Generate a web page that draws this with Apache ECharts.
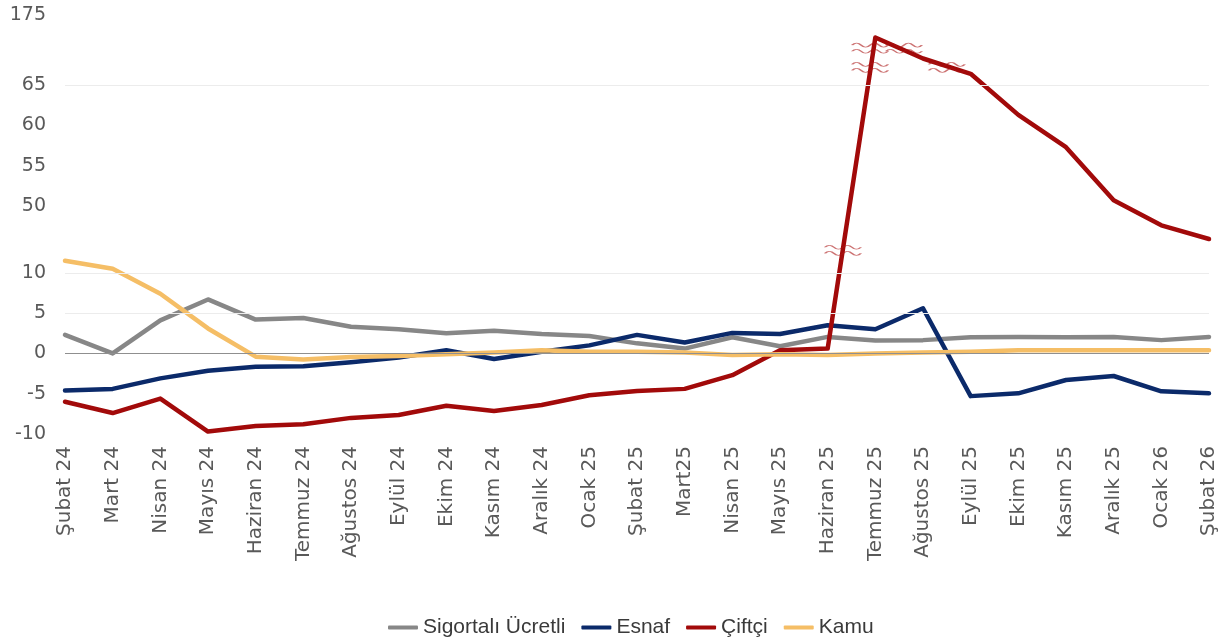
<!DOCTYPE html>
<html>
<head>
<meta charset="utf-8">
<script src="https://cdn.jsdelivr.net/npm/echarts@6/dist/echarts.min.js"></script>
<style>
html,body{margin:0;padding:0;background:#fff;}
#chart{width:1225px;height:641px;}
</style>
</head>
<body>
<div id="chart"></div>
<script>
var categories = ['Şubat 24','Mart 24','Nisan 24','Mayıs 24','Haziran 24','Temmuz 24','Ağustos 24','Eylül 24','Ekim 24','Kasım 24','Aralık 24','Ocak 25','Şubat 25','Mart25','Nisan 25','Mayıs 25','Haziran 25','Temmuz 25','Ağustos 25','Eylül 25','Ekim 25','Kasım 25','Aralık 25','Ocak 26','Şubat 26'];
var sigortaliUcretli = [2.3, 0.0, 4.1, 6.7, 4.2, 4.4, 3.3, 3.0, 2.5, 2.8, 2.4, 2.15, 1.25, 0.6, 2.0, 0.9, 2.05, 1.6, 1.65, 2.0, 2.05, 2.0, 2.05, 1.65, 2.05];
var esnaf = [-4.6, -4.4, -3.1, -2.15, -1.65, -1.6, -1.1, -0.5, 0.4, -0.7, 0.2, 1.0, 2.3, 1.35, 2.55, 2.4, 3.5, 3.0, 5.6, -5.3, -4.95, -3.3, -2.8, -4.7, -4.95];
var ciftci = [-6.0, -7.4, -5.6, -9.7, -9.0, -8.8, -8.0, -7.65, -6.5, -7.15, -6.4, -5.2, -4.65, -4.4, -2.7, 0.4, 0.6, 172.2, 68.3, 66.4, 61.3, 57.3, 50.7, 47.6, 45.9];
var kamu = [11.5, 10.5, 7.4, 3.1, -0.4, -0.75, -0.45, -0.33, -0.1, 0.1, 0.4, 0.2, 0.2, 0.1, -0.2, -0.1, -0.2, 0.0, 0.1, 0.2, 0.4, 0.4, 0.4, 0.4, 0.4];
var yTickLabels = [-10, -5, 0, 5, 10, 50, 55, 60, 65, 175];
var gridLineValues = [5, 10, 65];
// axis breaks (value ranges collapsed on the y axis)
var axisBreaks = [[12, 45, 1.3], [69, 172, 1.7]];
// break marks drawn on the Çiftçi line: [category position, value]
var breakMarks = [[16.32, 32.3], [16.89, 67.2], [16.89, 104], [17.6, 104], [18.5, 67.2]];

var chart = echarts.init(document.getElementById('chart'), null, {renderer: 'canvas'});
var axisFont = 'DejaVu Sans';
var colors = {g: '#878787', n: '#0b2a6a', r: '#a20a0a', y: '#f5be66'};
var wave = 'path://M0,3 C3,0 6,0 9,3 S15,6 18,3 S24,0 27,3 S33,6 36,3 M0,10 C3,7 6,7 9,10 S15,13 18,10 S24,7 27,10 S33,13 36,10';

var markLineData = gridLineValues.map(function (v) {
  return {yAxis: v, lineStyle: {color: '#ececec', width: 1, type: 'solid'}};
});
markLineData.push({yAxis: 0, lineStyle: {color: '#8f8f8f', width: 1, type: 'solid'}});

function lineSeries(name, data, color, extra) {
  var s = {
    name: name, type: 'line', data: data, xAxisIndex: 0, yAxisIndex: 0,
    symbol: 'none', showSymbol: false, smooth: false,
    lineStyle: {color: color, width: 4.5, cap: 'round', join: 'round'},
    itemStyle: {color: color},
    emphasis: {disabled: true}
  };
  if (extra) for (var k in extra) s[k] = extra[k];
  return s;
}

var option = {
  animation: false,
  backgroundColor: '#ffffff',
  grid: {left: 65, right: 16, top: 15, bottom: 207, containLabel: false},
  xAxis: [{
    type: 'category', data: categories, boundaryGap: false,
    axisLine: {show: false}, axisTick: {show: false}, splitLine: {show: false},
    axisLabel: {rotate: 90, interval: 0, margin: 12, color: '#595959', fontFamily: axisFont, fontSize: 20}
  }, {
    type: 'value', min: 0, max: categories.length - 1, show: false
  }],
  yAxis: {
    type: 'value', min: -10, max: 175,
    breaks: axisBreaks.map(function (b) { return {start: b[0], end: b[1], gap: b[2], isExpanded: false}; }),
    breakArea: {show: false, expandOnClick: false, itemStyle: {opacity: 0}},
    axisLine: {show: false}, axisTick: {show: false}, splitLine: {show: false},
    axisLabel: {customValues: yTickLabels, margin: 19, color: '#595959', fontFamily: axisFont, fontSize: 19, hideOverlap: false}
  },
  legend: {
    data: ['Sigortalı Ücretli', 'Esnaf', 'Çiftçi', 'Kamu'],
    left: 383, top: 612, icon: 'roundRect', itemWidth: 30, itemHeight: 4, itemGap: 16,
    textStyle: {color: '#3a3a3a', fontFamily: 'Liberation Sans', fontSize: 21}
  },
  series: [
    lineSeries('Sigortalı Ücretli', sigortaliUcretli, colors.g, {
      markLine: {silent: true, symbol: 'none', label: {show: false}, animation: false, data: markLineData}
    }),
    lineSeries('Esnaf', esnaf, colors.n),
    lineSeries('Çiftçi', ciftci, colors.r),
    lineSeries('Kamu', kamu, colors.y),
    {
      name: 'breakMarks', type: 'scatter', xAxisIndex: 1, yAxisIndex: 0,
      data: breakMarks, symbol: wave, symbolSize: [36, 10], z: 5, silent: true,
      itemStyle: {color: 'rgba(0,0,0,0)', borderColor: 'rgba(170,20,20,0.75)', borderWidth: 1.3}
    }
  ]
};
chart.setOption(option);
</script>
</body>
</html>
